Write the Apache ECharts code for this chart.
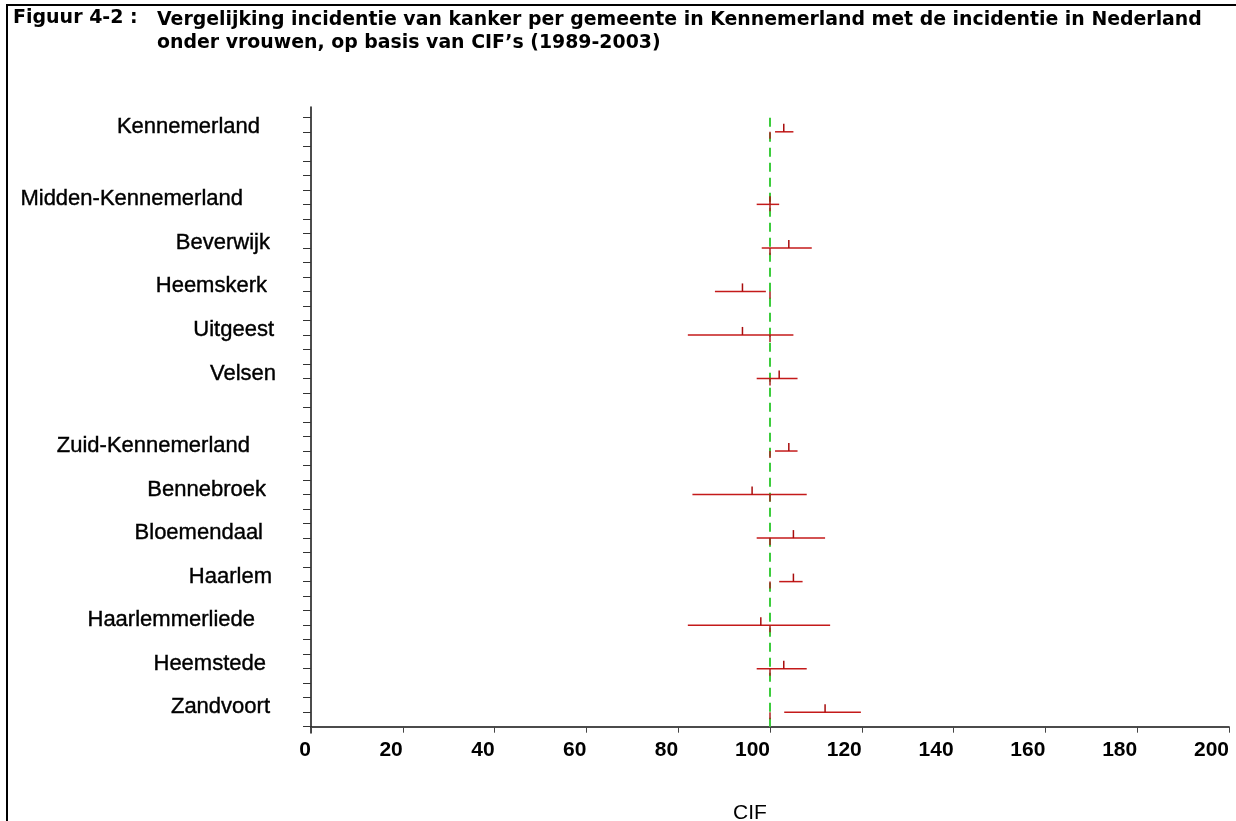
<!DOCTYPE html>
<html>
<head>
<meta charset="utf-8">
<title>Figuur 4-2</title>
<script src="https://cdn.jsdelivr.net/npm/echarts@6/dist/echarts.min.js"></script>
<style>
  html, body { margin: 0; padding: 0; background: #fff; }
  #chart { width: 1236px; height: 821px; }
</style>
</head>
<body>
<div id="chart"></div>
<script>
// gemeenten, van boven naar beneden
const gemeenten = ['Kennemerland', 'Midden-Kennemerland', 'Beverwijk', 'Heemskerk', 'Uitgeest', 'Velsen',
  'Zuid-Kennemerland', 'Bennebroek', 'Bloemendaal', 'Haarlem', 'Haarlemmerliede', 'Heemstede', 'Zandvoort']
// positie op de verticale as (in streepjes vanaf onder)
const rijPositie = [41, 36, 33, 30, 27, 24, 19, 16, 13, 10, 7, 4, 1]
// CIF met betrouwbaarheidsinterval
const cifOnder = [101.1, 97.1, 98.2, 88.0, 82.1, 97.1, 101.1, 83.1, 97.1, 102.0, 82.1, 97.1, 103.1]
const cif = [103.0, 100.0, 104.1, 94.0, 94.0, 102.0, 104.1, 96.1, 105.1, 105.1, 98.0, 103.0, 112.0]
const cifBoven = [105.1, 102.0, 109.1, 99.1, 105.1, 106.0, 106.0, 108.0, 112.0, 107.1, 113.1, 108.0, 119.8]
// Nederland = 100
const referentie = 100
const xTicks = [0, 20, 40, 60, 80, 100, 120, 140, 160, 180, 200]
const yTicks = Array.from({ length: 43 }, (_, k) => k)

// afstand van label tot de as (px), alleen opmaak
const labelAfstand = [51, 68, 41, 44, 37, 35, 61, 45, 48, 39, 56, 45, 41]

const rood = '#c41a1a'
const sans = '"Liberation Sans", Arial, sans-serif'
const chart = echarts.init(document.getElementById('chart'))

chart.setOption({
  animation: false,
  title: [
    {
      text: 'Figuur 4-2 :',
      left: 8,
      top: 4,
      textStyle: { fontFamily: 'DejaVu Sans', fontWeight: 'bold', fontSize: 19, color: '#000' }
    },
    {
      text: 'Vergelijking incidentie van kanker per gemeente in Kennemerland met de incidentie in Nederland\nonder vrouwen, op basis van CIF\u2019s (1989-2003)',
      left: 152,
      top: 4,
      textStyle: { fontFamily: 'DejaVu Sans', fontWeight: 'bold', fontSize: 18.9, lineHeight: 23, color: '#000' }
    }
  ],
  graphic: [{
    type: 'rect',
    shape: { x: 7, y: 5, width: 1240, height: 830 },
    style: { fill: 'none', stroke: '#000', lineWidth: 2 },
    silent: true,
    z: -1
  }],
  grid: { left: 311, right: 7, top: 107, bottom: 88, outerBoundsMode: 'none' },
  xAxis: {
    type: 'value',
    min: 0,
    max: 200,
    interval: 20,
    name: 'CIF',
    nameLocation: 'middle',
    nameGap: 70,
    nameTextStyle: { fontFamily: sans, fontSize: 21, color: '#000', padding: [0, 40, 0, 0] },
    axisLine: { lineStyle: { color: '#111', width: 1.5 } },
    axisTick: { length: 6, lineStyle: { color: '#444' } },
    axisLabel: {
      customValues: xTicks,
      align: 'right',
      margin: 7,
      fontFamily: sans,
      fontWeight: 'bold',
      fontSize: 21,
      color: '#000'
    },
    splitLine: { show: false }
  },
  yAxis: {
    type: 'value',
    min: -0.434,
    max: 42.71,
    axisLine: { show: true, lineStyle: { color: '#111', width: 1.5 } },
    axisTick: { show: true, length: 8, customValues: yTicks, lineStyle: { color: '#333' } },
    axisLabel: { show: false },
    splitLine: { show: false }
  },
  series: [
    {
      // groene referentielijn op 100
      type: 'line',
      data: [[referentie, 0], [referentie, 42]],
      symbol: 'none',
      lineStyle: { color: '#3ccc3c', width: 2, type: [9, 6] },
      z: 1
    },
    {
      type: 'custom',
      data: gemeenten.map((g, i) => [cifOnder[i], cif[i], cifBoven[i], rijPositie[i]]),
      encode: { x: [0, 1, 2], y: 3 },
      z: 2,
      renderItem (params, api) {
        const i = params.dataIndex
        const y = api.value(3)
        const a = api.coord([api.value(0), y])
        const b = api.coord([api.value(2), y])
        const m = api.coord([api.value(1), y])
        const r = api.coord([referentie, y])
        const as0 = api.coord([0, y])
        return {
          type: 'group',
          children: [
            { type: 'line', shape: { x1: a[0], y1: a[1], x2: b[0], y2: b[1] }, style: { stroke: rood, lineWidth: 1.5 } },
            { type: 'line', shape: { x1: m[0], y1: m[1], x2: m[0], y2: m[1] - 8 }, style: { stroke: '#a80c0c', lineWidth: 1.5 } },
            { type: 'line', shape: { x1: r[0], y1: r[1], x2: r[0], y2: r[1] + 7 }, style: { stroke: '#a82020', lineWidth: 1.5 } },
            {
              type: 'text',
              x: as0[0] - labelAfstand[i],
              y: as0[1] - 5,
              style: {
                text: gemeenten[i],
                align: 'right',
                verticalAlign: 'middle',
                font: '22px "Liberation Sans", Arial, sans-serif',
                fill: '#000',
                stroke: '#000',
                lineWidth: 0.4
              }
            }
          ]
        }
      }
    }
  ]
})
</script>
</body>
</html>
